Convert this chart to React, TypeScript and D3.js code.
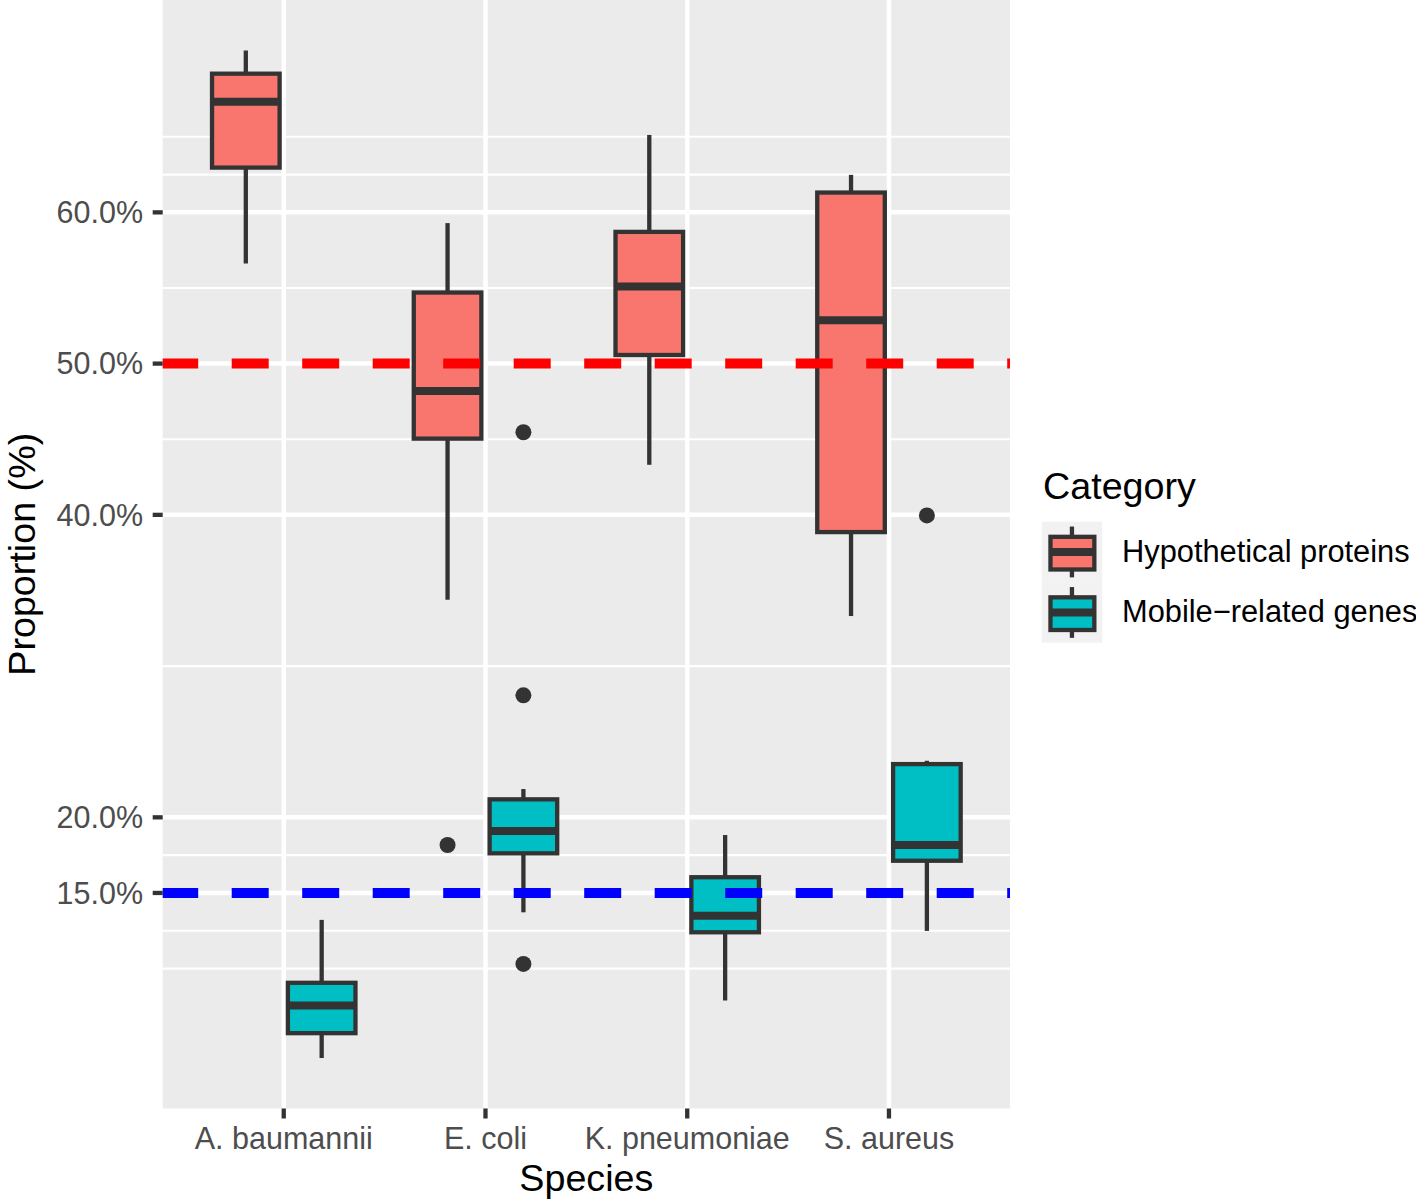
import React from 'react';
import * as d3 from 'd3';

// ---------- data ----------
const species = ['A. baumannii', 'E. coli', 'K. pneumoniae', 'S. aureus'];
const categories = ['Hypothetical proteins', 'Mobile\u2212related genes'];
const categoryColors = ['#F8766D', '#00BFC4'];

const hypoLower = [56.62, 34.39, 43.31, 33.31];
const hypoQ1 = [62.96, 45.04, 50.57, 38.86];
const hypoMedian = [67.32, 48.19, 55.1, 52.86];
const hypoQ3 = [69.17, 54.7, 58.71, 61.31];
const hypoUpper = [70.71, 59.29, 65.12, 62.48];
const hypoOutliers: number[][] = [[], [18.17], [], []];

const mobileLower = [4.08, 13.72, 7.89, 12.49];
const mobileQ1 = [5.73, 17.62, 12.4, 17.13];
const mobileMedian = [7.56, 19.09, 13.5, 18.17];
const mobileQ3 = [9.06, 21.19, 16.04, 23.52];
const mobileUpper = [13.22, 21.87, 18.83, 23.74];
const mobileOutliers: number[][] = [[], [45.46, 28.07, 10.31], [], [39.96]];

const yBreaks = [15, 20, 40, 50, 60];
const yMinorBreaks = [10, 12.5, 17.5, 30, 45, 55, 62.5, 65];
const refLineValues = [50, 15];
const refLineColors = ['#FF0000', '#0000FF'];

// ---------- layout ----------
const W = 1416;
const H = 1200;
const panel = { left: 162.7, right: 1010, top: 0, bottom: 1108.5 };
const FONT = '"Liberation Sans", Arial, Helvetica, sans-serif';
const STROKE = '#333333';
const LW = 4.3;

type Stat = {
  species: string;
  cat: number;
  lower: number;
  q1: number;
  median: number;
  q3: number;
  upper: number;
  outliers: number[];
};

const stats: Stat[] = [];
species.forEach((s, i) => {
  stats.push({
    species: s, cat: 0,
    lower: hypoLower[i], q1: hypoQ1[i], median: hypoMedian[i], q3: hypoQ3[i], upper: hypoUpper[i],
    outliers: hypoOutliers[i],
  });
  stats.push({
    species: s, cat: 1,
    lower: mobileLower[i], q1: mobileQ1[i], median: mobileMedian[i], q3: mobileQ3[i], upper: mobileUpper[i],
    outliers: mobileOutliers[i],
  });
});

const allVals = stats.flatMap((d) => [d.lower, d.upper, ...d.outliers]);
const [vMin, vMax] = d3.extent(allVals) as [number, number];
const pad = (vMax - vMin) * 0.05;

const x = d3.scalePoint<string>().domain(species).range([panel.left, panel.right]).padding(0.6);
const y = d3.scaleLinear().domain([vMin - pad, vMax + pad]).range([panel.bottom, panel.top]);
const step = x.step();
const dodge = step * 0.188;
const boxW = step * 0.335;
const fmt = (v: number) => d3.format('.1f')(v) + '%';

function BoxKey({ x0, y0, size, fill }: { x0: number; y0: number; size: number; fill: string }) {
  const cx = x0 + size / 2;
  const bx0 = x0 + size * 0.145;
  const bx1 = x0 + size * 0.87;
  const by0 = y0 + size * 0.25;
  const by1 = y0 + size * 0.79;
  const my = y0 + size * 0.5;
  return (
    <g>
      <rect x={x0} y={y0} width={size} height={size} fill="#F2F2F2" />
      <line x1={cx} x2={cx} y1={y0 + size * 0.08} y2={y0 + size * 0.92} stroke={STROKE} strokeWidth={LW} />
      <rect x={bx0} y={by0} width={bx1 - bx0} height={by1 - by0} fill={fill} stroke={STROKE} strokeWidth={LW} />
      <line x1={bx0} x2={bx1} y1={my} y2={my} stroke={STROKE} strokeWidth={8} />
    </g>
  );
}

export default function App() {
  const keySize = 60.5;
  const keyX = 1041.7;
  const keyY = 521.7;
  return (
    <div style={{ position: 'absolute', left: 0, top: 0, width: W, height: H, background: '#fff' }}>
      <svg width={W} height={H} viewBox={`0 0 ${W} ${H}`} style={{ display: 'block' }}>
        <defs>
          <clipPath id="panelClip">
            <rect x={panel.left} y={panel.top} width={panel.right - panel.left} height={panel.bottom - panel.top} />
          </clipPath>
        </defs>
        <rect x={0} y={0} width={W} height={H} fill="#FFFFFF" />
        {/* panel */}
        <rect
          x={panel.left}
          y={panel.top}
          width={panel.right - panel.left}
          height={panel.bottom - panel.top}
          fill="#EBEBEB"
        />
        <g clipPath="url(#panelClip)">
          {yMinorBreaks.map((v) => (
            <line key={'mn' + v} x1={panel.left} x2={panel.right} y1={y(v)} y2={y(v)} stroke="#FFFFFF" strokeWidth={2.2} />
          ))}
          {yBreaks.map((v) => (
            <line key={'mj' + v} x1={panel.left} x2={panel.right} y1={y(v)} y2={y(v)} stroke="#FFFFFF" strokeWidth={4.5} />
          ))}
          {species.map((s) => (
            <line key={'vx' + s} x1={x(s)} x2={x(s)} y1={panel.top} y2={panel.bottom} stroke="#FFFFFF" strokeWidth={4.5} />
          ))}

          {/* boxplots */}
          {stats.map((d, i) => {
            const cx = (x(d.species) as number) + (d.cat === 0 ? -dodge : dodge);
            const x0 = cx - boxW / 2;
            return (
              <g key={'bx' + i}>
                <line x1={cx} x2={cx} y1={y(d.upper)} y2={y(d.q3)} stroke={STROKE} strokeWidth={LW} />
                <line x1={cx} x2={cx} y1={y(d.q1)} y2={y(d.lower)} stroke={STROKE} strokeWidth={LW} />
                <rect
                  x={x0}
                  y={y(d.q3)}
                  width={boxW}
                  height={y(d.q1) - y(d.q3)}
                  fill={categoryColors[d.cat]}
                  stroke={STROKE}
                  strokeWidth={LW}
                />
                <line x1={x0} x2={x0 + boxW} y1={y(d.median)} y2={y(d.median)} stroke={STROKE} strokeWidth={8} />
                {d.outliers.map((o, j) => (
                  <circle key={j} cx={cx} cy={y(o)} r={8} fill={STROKE} />
                ))}
              </g>
            );
          })}

          {/* reference lines */}
          {refLineValues.map((v, i) => (
            <line
              key={'ref' + v}
              x1={panel.left - 1.5}
              x2={panel.right}
              y1={y(v)}
              y2={y(v)}
              stroke={refLineColors[i]}
              strokeWidth={10}
              strokeDasharray="37 33.5"
            />
          ))}
        </g>

        {/* y axis */}
        {yBreaks.map((v) => (
          <g key={'yt' + v}>
            <line x1={panel.left - 10} x2={panel.left} y1={y(v)} y2={y(v)} stroke={STROKE} strokeWidth={LW} />
            <text
              x={143}
              y={y(v)}
              dy="0.355em"
              textAnchor="end"
              fontFamily={FONT}
              fontSize={30.5}
              fill="#4D4D4D"
            >
              {fmt(v)}
            </text>
          </g>
        ))}
        {/* x axis */}
        {species.map((s) => (
          <g key={'xt' + s}>
            <line x1={x(s)} x2={x(s)} y1={panel.bottom} y2={panel.bottom + 10} stroke={STROKE} strokeWidth={LW} />
            <text x={x(s)} y={1149} textAnchor="middle" fontFamily={FONT} fontSize={30.5} fill="#4D4D4D">
              {s}
            </text>
          </g>
        ))}
        <text
          x={(panel.left + panel.right) / 2}
          y={1191}
          textAnchor="middle"
          fontFamily={FONT}
          fontSize={37.7}
          fill="#000000"
        >
          Species
        </text>
        <text
          transform={`translate(35, ${(panel.top + panel.bottom) / 2}) rotate(-90)`}
          textAnchor="middle"
          fontFamily={FONT}
          fontSize={37.7}
          fill="#000000"
        >
          Proportion (%)
        </text>

        {/* legend */}
        <text x={1043} y={499} fontFamily={FONT} fontSize={37.7} fill="#000000">
          Category
        </text>
        {categories.map((c, i) => (
          <g key={'lg' + i}>
            <BoxKey x0={keyX} y0={keyY + i * keySize} size={keySize} fill={categoryColors[i]} />
            <text
              x={1122}
              y={keyY + i * keySize + keySize / 2 + 10}
              fontFamily={FONT}
              fontSize={30.8}
              fill="#000000"
            >
              {c}
            </text>
          </g>
        ))}
      </svg>
    </div>
  );
}
